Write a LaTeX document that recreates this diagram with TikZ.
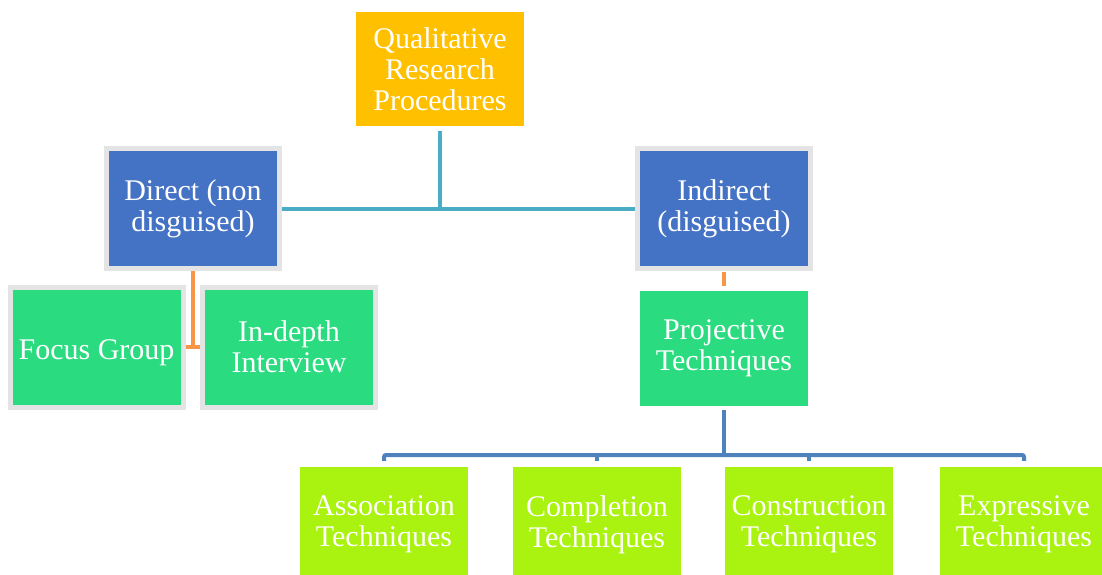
\documentclass[tikz,border=0pt]{standalone}
\usepackage{fontspec}
\setmainfont{Liberation Serif}
\usetikzlibrary{calc}
\definecolor{cyellow}{HTML}{FFC000}
\definecolor{cblue}{HTML}{4472C4}
\definecolor{cgreen}{HTML}{2ADB80}
\definecolor{clime}{HTML}{AAF20F}
\definecolor{cteal}{HTML}{4BACC6}
\definecolor{corange}{HTML}{F79646}
\definecolor{cline}{HTML}{4F81BD}
\definecolor{cborder}{HTML}{E4E4E4}
\tikzset{
  box/.style={rectangle, minimum width=168pt, minimum height=115pt, inner sep=0pt,
    text=white, align=center, font=\fontsize{30}{31}\selectfont,
    execute at begin node={\rule{0pt}{31pt}}},
  framed/.style={box, draw=cborder, line width=5pt, minimum width=173pt, minimum height=120pt},
  tealline/.style={draw=cteal, line width=4pt},
  orangeline/.style={draw=corange, line width=4pt},
  blueline/.style={draw=cline, line width=4pt, rounded corners=2pt},
}
\begin{document}
\begin{tikzpicture}[x=1pt,y=-1pt]
\useasboundingbox (0,0) rectangle (1102,575);
\node[box, fill=cyellow, minimum height=114pt] (top) at (440,69) {Qualitative\\Research\\Procedures};
\node[framed, fill=cblue] (dir) at (193,208.5) {Direct (non\\disguised)};
\node[framed, fill=cblue] (ind) at (724,208.5) {Indirect\\(disguised)};
\node[framed, fill=cgreen] (foc) at (96.5,347) {Focus Group};
\node[framed, fill=cgreen] (int) at (289,347) {In-depth\\Interview};
\node[box, fill=cgreen] (proj) at (724,348.5) {Projective\\Techniques};
\node[box, fill=clime] (a) at (384,524.5) {Association\\Techniques};
\node[box, fill=clime] (b) at (597,524.5) {Completion\\Techniques};
\node[box, fill=clime] (c) at (809,524.5) {Construction\\Techniques};
\node[box, fill=clime] (d) at (1024,524.5) {Expressive\\Techniques};
\coordinate (bus) at (724,455);
% teal
\draw[tealline, shorten <=5pt] (top.south) -- (top.south |- dir.east);
\draw[tealline] (dir.east) -- (ind.west);
% orange
\draw[orangeline] (dir.south) -- (dir.south |- foc.east);
\draw[orangeline] (foc.east) -- (int.west);
\draw[orangeline, shorten <=1pt, shorten >=5pt] (ind.south) -- (proj.north);
% blue
\draw[blueline, shorten <=4pt] (proj.south) -- (bus);
\draw[blueline] ($(a.north)+(0,-6)$) -- (a.north |- bus) -- (d.north |- bus) -- ($(d.north)+(0,-6)$);
\draw[blueline] (b.north |- bus) -- ($(b.north)+(0,-6)$);
\draw[blueline] (c.north |- bus) -- ($(c.north)+(0,-6)$);
\end{tikzpicture}
\end{document}
